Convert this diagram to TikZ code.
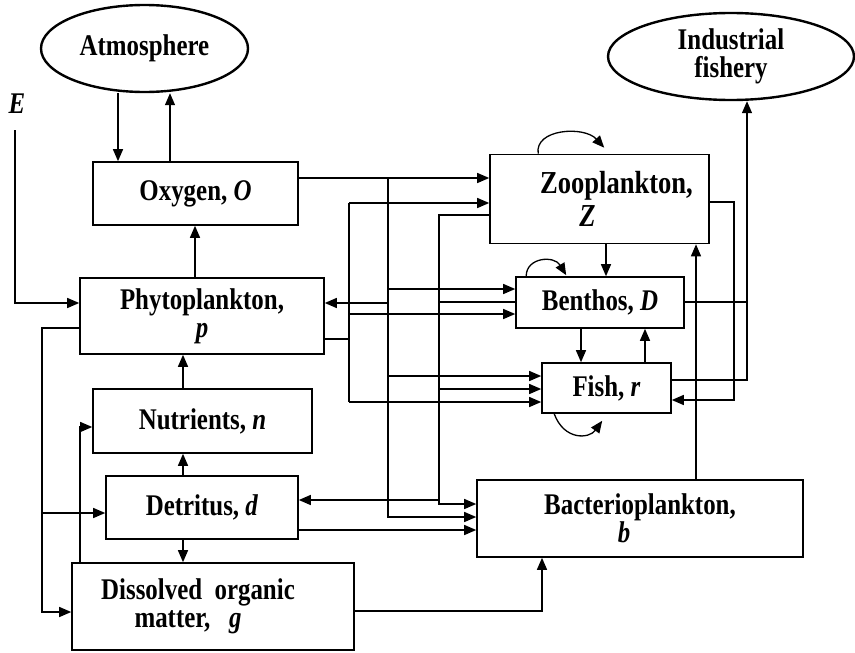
\documentclass[tikz,border=0pt]{standalone}
\usepackage{fontspec}
\setmainfont{Liberation Serif}[FakeStretch=0.83]
\usetikzlibrary{arrows.meta,shapes.geometric,calc}
\begin{document}
\begin{tikzpicture}[x=1pt,y=-1pt,
  txt/.style={font=\fontsize{30}{28}\selectfont\bfseries},
  box/.style={draw,line width=1.6pt,inner sep=0pt,align=center,txt},
  oval/.style={ellipse,draw,line width=2.4pt,inner sep=0pt,align=center,txt},
  con/.style={line width=1.3pt},
  arr/.style={con,-{Triangle[length=12pt,width=10pt]}},
]
\useasboundingbox (0,0) rectangle (855,653);

% ---- nodes
\node[oval,minimum width=207pt,minimum height=87pt] (atm) at (144.5,48.5) {Atmosphere};
\node[oval,minimum width=246pt,minimum height=87pt] (ind) at (731,56.5) {Industrial\\fishery};
\node[txt] (E) at (17,104) {\textit{E}};
\node[box,minimum width=205pt,minimum height=63pt] (oxy) at (195.5,193.5) {Oxygen, \textit{O}};
\node[box,minimum width=244pt,minimum height=76pt] (phy) at (202,316) {Phytoplankton,\\\textit{p}};
\node[box,minimum width=219pt,minimum height=64pt] (nut) at (202.5,421) {Nutrients, \textit{n}};
\node[box,minimum width=192pt,minimum height=63pt] (det) at (202,507.5) {Detritus, \textit{d}};
\node[box,minimum width=282pt,minimum height=87pt] (dom) at (213,606.5) {Dissolved\ \ organic\hspace*{30pt}\\matter,\ \ \ \textit{g}\hspace*{50pt}};
\node[box,minimum width=326pt,minimum height=77pt] (bac) at (640,518.5) {Bacterioplankton,\\\textit{b}\hspace*{32pt}};
\node[box,minimum width=219pt,minimum height=89pt,font=\fontsize{32}{33}\selectfont\bfseries] (zoo) at (599.5,199) {\hspace*{34pt}Zooplankton,\\\textit{Z}\hspace*{24pt}};
\node[box,minimum width=168pt,minimum height=51pt] (ben) at (600,302.5) {Benthos, \textit{D}};
\node[box,minimum width=129pt,minimum height=50pt] (fish) at (606.5,388) {Fish, \textit{r}};

% ---- guide coordinates
\coordinate (x15) at (15,0);
\coordinate (x42) at (42,0);
\coordinate (x80) at (80,0);
\coordinate (x118) at (118,0);
\coordinate (x170) at (170,0);
\coordinate (x183) at (183,0);
\coordinate (x195) at (195,0);
\coordinate (xA) at (349,0);
\coordinate (xB) at (388,0);
\coordinate (xC) at (439,0);
\coordinate (x542) at (542,0);
\coordinate (x581) at (581,0);
\coordinate (x606) at (606,0);
\coordinate (x645) at (645,0);
\coordinate (xBZ) at (696,0);
\coordinate (xR1) at (734,0);
\coordinate (xR2) at (747,0);
\coordinate (Estart) at (15,130);
\foreach \y in {178,202,203,215,289,302,303,314,328,339,376,380,389,400,402,427,500,504,513,517,530,611,612}
  {\coordinate (y\y) at (0,\y);}

% ---- atmosphere / oxygen
\draw[arr] (x118 |- atm.south) -- (x118 |- oxy.north);
\draw[arr] (x170 |- oxy.north) -- (x170 |- atm.south);
\draw[arr] (x195 |- phy.north) -- (x195 |- oxy.south);
% ---- E
\draw[arr] (Estart) -- (x15 |- y303) -- (phy.west |- y303);
% ---- vertical chain on the left
\draw[arr] (x183 |- nut.north) -- (x183 |- phy.south);
\draw[arr] (x183 |- det.north) -- (x183 |- nut.south);
\draw[arr] (x183 |- det.south) -- (x183 |- dom.north);
% ---- phytoplankton left bus
\draw[arr] (phy.west |- y328) -- (x42 |- y328) -- (x42 |- y612) -- (dom.west |- y612);
\draw[arr] (x42 |- y513) -- (det.west |- y513);
% ---- DOM to nutrients
\draw[arr] (x80 |- dom.north) -- (x80 |- y427) -- (nut.west |- y427);
% ---- DOM to bacterioplankton
\draw[arr] (dom.east |- y611) -- (x542 |- y611) -- (x542 |- bac.south);
% ---- oxygen bus
\draw[arr] (oxy.east |- y178) -- (zoo.west |- y178);
\draw[arr] (xB |- y178) -- (xB |- y517) -- (bac.west |- y517);
\draw[arr] (xB |- y289) -- (ben.west |- y289);
\draw[arr] (xB |- y376) -- (fish.west |- y376);
\draw[arr] (xB |- y303) -- (phy.east |- y303);
% ---- phytoplankton bus
\draw[con] (phy.east |- y339) -- (xA |- y339);
\draw[con] (xA |- y203) -- (xA |- y402);
\draw[arr] (xA |- y203) -- (zoo.west |- y203);
\draw[arr] (xA |- y314) -- (ben.west |- y314);
\draw[arr] (xA |- y402) -- (fish.west |- y402);
% ---- zooplankton / benthos bus
\draw[arr] (zoo.west |- y215) -- (xC |- y215) -- (xC |- y504) -- (bac.west |- y504);
\draw[con] (ben.west |- y302) -- (xC |- y302);
\draw[arr] (xC |- y389) -- (fish.west |- y389);
\draw[arr] (xC |- y500) -- (det.east |- y500);
% ---- detritus to bacterioplankton
\draw[arr] (det.east |- y530) -- (bac.west |- y530);
% ---- right group
\draw[arr] (x606 |- zoo.south) -- (x606 |- ben.north);
\draw[arr] (x581 |- ben.south) -- (x581 |- fish.north);
\draw[arr] (x645 |- fish.north) -- (x645 |- ben.south);
\draw[arr] (zoo.east |- y202) -- (xR1 |- y202) -- (xR1 |- y400) -- (fish.east |- y400);
\draw[con] (ben.east |- y302) -- (xR2 |- y302);
\draw[arr] (fish.east |- y380) -- (xR2 |- y380) -- (xR2 |- ind.south);
\draw[arr] (xBZ |- bac.north) -- (xBZ |- zoo.south);
% ---- self loops
\draw[arr] ($(zoo.north west)+(49,0)$) .. controls +(-4,-25) and +(-20,-22) .. ($(zoo.north west)+(115,-6)$);
\draw[arr] ($(ben.north west)+(11,0)$) .. controls +(0,-19) and +(-12,-20) .. ($(ben.north west)+(51,-1)$);
\draw[arr] ($(fish.south west)+(13,0)$) .. controls +(10,27) and +(-13,18) .. ($(fish.south west)+(61,7)$);
\end{tikzpicture}
\end{document}
